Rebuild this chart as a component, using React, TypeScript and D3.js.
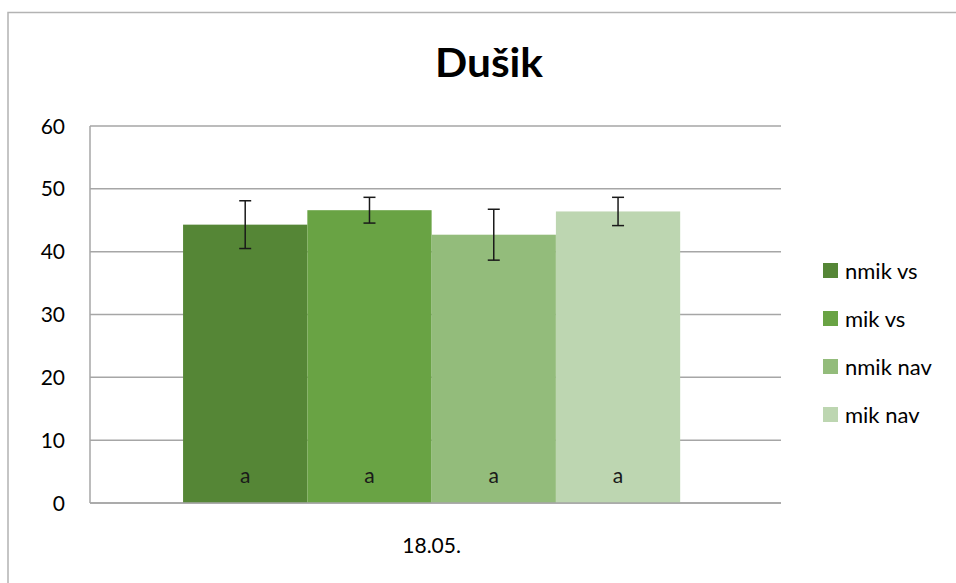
import React from "react";
import * as d3 from "d3";

const categories = ["18.05."];
const series = ["nmik vs", "mik vs", "nmik nav", "mik nav"];
const values = [44.3, 46.6, 42.7, 46.4];
const errors = [3.8, 2.05, 4.05, 2.25];
const letters = ["a", "a", "a", "a"];
const colors = ["#558636", "#69A344", "#93BC7B", "#BDD6B1"];
const yTicks = [0, 10, 20, 30, 40, 50, 60];

const W = 956;
const H = 583;
const FONT = "Lato, 'Open Sans', sans-serif";

export default function App() {
  const plot = { left: 90, right: 781, top: 126, bottom: 503 };
  const y = d3.scaleLinear().domain([0, 60]).range([plot.bottom, plot.top]);
  const x0 = d3
    .scaleBand<string>()
    .domain(categories)
    .range([plot.left, plot.right])
    .paddingInner(0)
    .paddingOuter(0.195)
    .align(0.48);
  const x1 = d3
    .scaleBand<string>()
    .domain(series)
    .range([0, x0.bandwidth()])
    .padding(0);

  const gridColor = "#a6a6a6";

  return (
    <svg
      width={W}
      height={H}
      style={{ position: "absolute", left: 0, top: 0, background: "#fff" }}
    >
      <rect x={0} y={0} width={W} height={H} fill="#fff" />
      {/* outer chart frame */}
      <path d={`M8,${H} L8,12.5 L${W},12.5`} fill="none" stroke="#b3b3b3" strokeWidth={1.5} />
      {/* title */}
      <text
        x={489}
        y={77}
        textAnchor="middle"
        fontFamily={FONT}
        fontWeight="bold"
        fontSize={40}
        textLength={108}
        lengthAdjust="spacingAndGlyphs"
        fill="#000"
      >
        Dušik
      </text>
      {/* gridlines */}
      {yTicks.map((t) => (
        <line
          key={t}
          x1={plot.left}
          x2={plot.right}
          y1={y(t)}
          y2={y(t)}
          stroke={gridColor}
          strokeWidth={1.5}
        />
      ))}
      <line
        x1={plot.left}
        x2={plot.left}
        y1={plot.top}
        y2={plot.bottom}
        stroke={gridColor}
        strokeWidth={1.5}
      />
      {/* y tick labels */}
      {yTicks.map((t) => (
        <text
          key={t}
          x={65}
          y={y(t) + 7.5}
          textAnchor="end"
          fontFamily={FONT}
          fontSize={21}
          fill="#000"
        >
          {t}
        </text>
      ))}
      {/* bars */}
      {categories.map((c) => (
        <g key={c} transform={`translate(${x0(c)},0)`}>
          {series.map((s, i) => {
            const bx = x1(s)!;
            const bw = x1.bandwidth();
            const cx = bx + bw / 2;
            return (
              <g key={s}>
                <rect
                  x={bx}
                  y={y(values[i])}
                  width={bw}
                  height={y(0) - y(values[i])}
                  fill={colors[i]}
                />
                <line
                  x1={cx}
                  x2={cx}
                  y1={y(values[i] + errors[i])}
                  y2={y(values[i] - errors[i])}
                  stroke="#1a1a1a"
                  strokeWidth={1.5}
                />
                <line
                  x1={cx - 6}
                  x2={cx + 6}
                  y1={y(values[i] + errors[i])}
                  y2={y(values[i] + errors[i])}
                  stroke="#1a1a1a"
                  strokeWidth={1.5}
                />
                <line
                  x1={cx - 6}
                  x2={cx + 6}
                  y1={y(values[i] - errors[i])}
                  y2={y(values[i] - errors[i])}
                  stroke="#1a1a1a"
                  strokeWidth={1.5}
                />
                <text
                  x={cx}
                  y={483}
                  textAnchor="middle"
                  fontFamily={FONT}
                  fontSize={21}
                  fill="#1a1a1a"
                >
                  {letters[i]}
                </text>
              </g>
            );
          })}
        </g>
      ))}
      {/* bottom axis line over bars */}
      <line
        x1={plot.left}
        x2={plot.right}
        y1={plot.bottom}
        y2={plot.bottom}
        stroke={gridColor}
        strokeWidth={1.5}
      />
      {/* x label */}
      {categories.map((c) => (
        <text
          key={c}
          x={x0(c)! + x0.bandwidth() / 2}
          y={553}
          textAnchor="middle"
          fontFamily={FONT}
          fontSize={21}
          fill="#000"
        >
          {c}
        </text>
      ))}
      {/* legend */}
      {series.map((s, i) => (
        <g key={s} transform={`translate(823,${271 + i * 48})`}>
          <rect x={0} y={-8} width={15} height={15} fill={colors[i]} />
          <text x={22} y={7.5} fontFamily={FONT} fontSize={22} fill="#000">
            {s}
          </text>
        </g>
      ))}
    </svg>
  );
}
